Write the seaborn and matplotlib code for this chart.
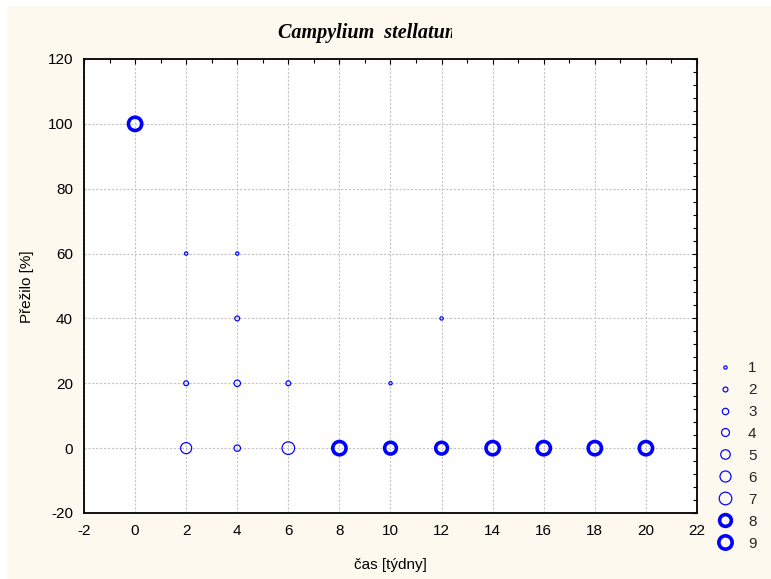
import matplotlib
matplotlib.use("Agg")
import matplotlib.pyplot as plt
from matplotlib.lines import Line2D
from matplotlib.patches import Rectangle
from matplotlib.ticker import MultipleLocator
import seaborn as sns
import pandas as pd

# survival of Campylium stellatum samples over time (number of samples per point)
weeks = [0, 2, 2, 2, 4, 4, 4, 4, 6, 6, 8, 10, 10, 12, 12, 14, 16, 18, 20]
survived = [100, 60, 20, 0, 60, 40, 20, 0, 20, 0, 0, 20, 0, 40, 0, 0, 0, 0, 0]
counts = [9, 1, 2, 6, 1, 2, 3, 3, 2, 7, 9, 1, 8, 1, 8, 9, 9, 9, 9]
levels = [1, 2, 3, 4, 5, 6, 7, 8, 9]

title = "Campylium  stellatum"
xlabel = "čas [týdny]"
ylabel = "Přežilo [%]"

PX = 100 / 72  # pixels per point at dpi 100
BLUE = "#0000FF"


def ring_style(n):
    """Marker diameter (pt) and edge width (pt) for a count level."""
    outer = 4.5 + 1.55 * (n - 1)
    lw = 1.2 if n <= 7 else 3.6
    return (outer - lw) / PX, lw / PX


df = pd.DataFrame({"weeks": weeks, "survived": survived, "n": counts})

sns.set_theme(style="white")
plt.rcParams["font.family"] = ["Liberation Sans", "DejaVu Sans"]
plt.rcParams["axes.unicode_minus"] = False

fig = plt.figure(figsize=(7.71, 5.79), dpi=100, facecolor="white")
fig.patches.append(Rectangle((7 / 771, 0), 1, 1 - 6 / 579, transform=fig.transFigure,
                             facecolor="#FDF9EF", edgecolor="none", zorder=-10))

ax = fig.add_axes([84 / 771, 1 - 513 / 579, (697 - 84) / 771, (513 - 59) / 579])
ax.set_facecolor("white")

for thick, part in df.groupby(df["n"] >= 8):
    size_map = {n: ring_style(n)[0] ** 2 for n in part["n"].unique()}
    lw = ring_style(part["n"].iloc[0])[1]
    sns.scatterplot(data=part, x="weeks", y="survived", size="n", sizes=size_map,
                    marker="o", fc="none", ec=BLUE, linewidth=lw, legend=False,
                    ax=ax, zorder=3, clip_on=False)

ax.set_xlim(-2, 22)
ax.set_ylim(-20, 120)
ax.xaxis.set_major_locator(MultipleLocator(2))
ax.xaxis.set_minor_locator(MultipleLocator(1))
ax.yaxis.set_major_locator(MultipleLocator(20))
ax.yaxis.set_minor_locator(MultipleLocator(4))
ax.tick_params(which="both", direction="in", top=True, right=True, color="black",
               width=0.8)
ax.tick_params(which="major", length=3.5, labelsize=11, pad=8, labelcolor="black")
ax.tick_params(which="minor", length=3)
ax.grid(True, which="major", color="#C4C4C4", linestyle=(0, (2, 1.5)), linewidth=0.8)
ax.set_axisbelow(True)
for sp in ax.spines.values():
    sp.set_color("black")
    sp.set_linewidth(1.3)

ax.set_xlabel("")
ax.set_ylabel("")
fig.text(390 / 771, 1 - 565 / 579, xlabel, ha="center", va="center", fontsize=11,
         color="black")
fig.text(27 / 771, 1 - 287 / 579, ylabel, ha="center", va="center", rotation=90,
         fontsize=11, color="black")

t = fig.text(278 / 771, 1 - 33 / 579, title, ha="left", va="center", fontsize=14.5,
             family="Liberation Serif", fontweight="bold", fontstyle="italic",
             color="black")
t.set_clip_path(Rectangle((0, 0), 452 / 771, 1, transform=fig.transFigure))

handles = []
for n in levels:
    ms, lw = ring_style(n)
    handles.append(Line2D([], [], linestyle="none", marker="o", markersize=ms,
                          markerfacecolor="none", markeredgecolor=BLUE,
                          markeredgewidth=lw))
ax.legend(handles, [str(n) for n in levels], loc="upper left",
          bbox_to_anchor=(716 / 771, 1 - 361 / 579), bbox_transform=fig.transFigure,
          frameon=False, fontsize=11, borderpad=0, borderaxespad=0,
          handlelength=1.2, handletextpad=0.9, labelspacing=0.52)

fig.savefig("out.png", dpi=100, facecolor=fig.get_facecolor())
